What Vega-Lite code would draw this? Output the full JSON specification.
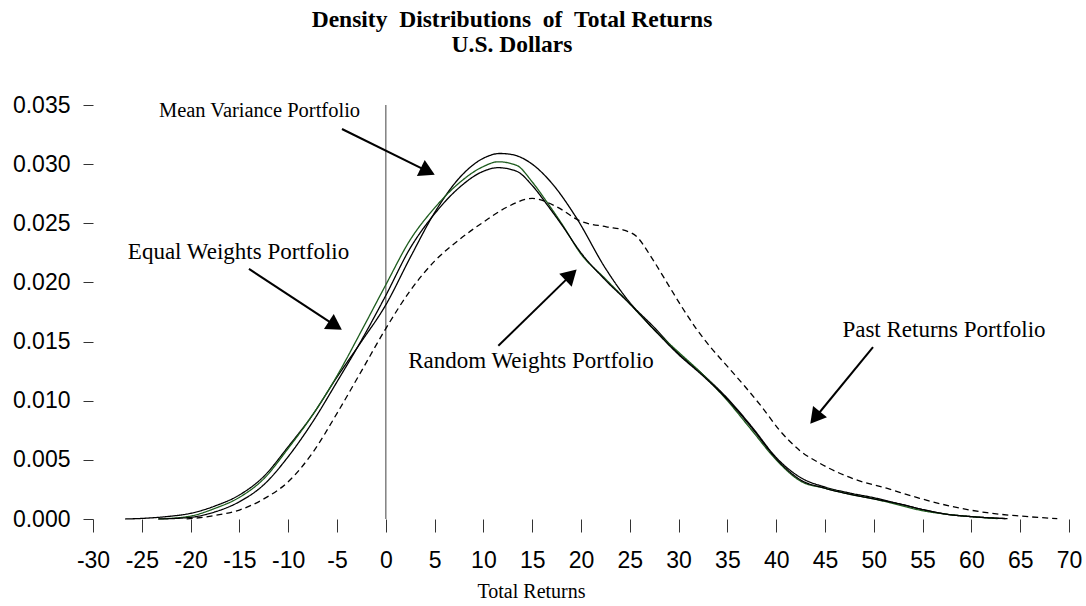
{
  "$schema": "https://vega.github.io/schema/vega-lite/v6.json",
  "width": 976,
  "height": 414,
  "autosize": {"type": "none"},
  "padding": {"left": 93, "top": 105, "right": 17, "bottom": 87},
  "background": "white",
  "config": {"view": {"stroke": null}},
  "title": {
    "text": ["Density\u00a0\u00a0Distributions\u00a0\u00a0of\u00a0\u00a0Total Returns", "U.S. Dollars"],
    "font": "Liberation Serif",
    "fontSize": 23.5,
    "fontWeight": "bold",
    "lineHeight": 25,
    "anchor": "middle",
    "dx": -69,
    "offset": 38,
    "color": "black"
  },
  "datasets": {
    "curves": [
      {"series": "Mean Variance", "x": -26.7, "y": 0},
      {"series": "Mean Variance", "x": -25, "y": 0.00005},
      {"series": "Mean Variance", "x": -22.5, "y": 0.0002},
      {"series": "Mean Variance", "x": -20, "y": 0.00048},
      {"series": "Mean Variance", "x": -17.5, "y": 0.0011},
      {"series": "Mean Variance", "x": -15, "y": 0.00203},
      {"series": "Mean Variance", "x": -12.5, "y": 0.0036},
      {"series": "Mean Variance", "x": -10, "y": 0.00611},
      {"series": "Mean Variance", "x": -7.5, "y": 0.0088},
      {"series": "Mean Variance", "x": -5, "y": 0.012},
      {"series": "Mean Variance", "x": -2.5, "y": 0.015},
      {"series": "Mean Variance", "x": 0, "y": 0.0181},
      {"series": "Mean Variance", "x": 2.5, "y": 0.0221},
      {"series": "Mean Variance", "x": 5, "y": 0.0259},
      {"series": "Mean Variance", "x": 7.5, "y": 0.0288},
      {"series": "Mean Variance", "x": 10, "y": 0.0305},
      {"series": "Mean Variance", "x": 11.7, "y": 0.0309},
      {"series": "Mean Variance", "x": 13, "y": 0.0308},
      {"series": "Mean Variance", "x": 15, "y": 0.03},
      {"series": "Mean Variance", "x": 17, "y": 0.0284},
      {"series": "Mean Variance", "x": 19.5, "y": 0.0255},
      {"series": "Mean Variance", "x": 22.5, "y": 0.0212},
      {"series": "Mean Variance", "x": 25, "y": 0.0183},
      {"series": "Mean Variance", "x": 27.5, "y": 0.0162},
      {"series": "Mean Variance", "x": 30, "y": 0.014},
      {"series": "Mean Variance", "x": 32.5, "y": 0.0122},
      {"series": "Mean Variance", "x": 35, "y": 0.0102},
      {"series": "Mean Variance", "x": 37.5, "y": 0.0078},
      {"series": "Mean Variance", "x": 40, "y": 0.0052},
      {"series": "Mean Variance", "x": 42.5, "y": 0.0035},
      {"series": "Mean Variance", "x": 45, "y": 0.0027},
      {"series": "Mean Variance", "x": 47.5, "y": 0.0022},
      {"series": "Mean Variance", "x": 50, "y": 0.0018},
      {"series": "Mean Variance", "x": 52.5, "y": 0.0013},
      {"series": "Mean Variance", "x": 55, "y": 0.0008},
      {"series": "Mean Variance", "x": 57.5, "y": 0.0004},
      {"series": "Mean Variance", "x": 60, "y": 0.0002},
      {"series": "Mean Variance", "x": 63.7, "y": 0.00003},
      {"series": "Equal Weights", "x": -23.3, "y": 0},
      {"series": "Equal Weights", "x": -20, "y": 0.00025},
      {"series": "Equal Weights", "x": -17.5, "y": 0.0009},
      {"series": "Equal Weights", "x": -15, "y": 0.00183},
      {"series": "Equal Weights", "x": -12.5, "y": 0.0034},
      {"series": "Equal Weights", "x": -10, "y": 0.00597},
      {"series": "Equal Weights", "x": -7.5, "y": 0.0088},
      {"series": "Equal Weights", "x": -5, "y": 0.0121},
      {"series": "Equal Weights", "x": -2.5, "y": 0.0159},
      {"series": "Equal Weights", "x": 0, "y": 0.0198},
      {"series": "Equal Weights", "x": 2.5, "y": 0.0236},
      {"series": "Equal Weights", "x": 5, "y": 0.0263},
      {"series": "Equal Weights", "x": 7.5, "y": 0.0284},
      {"series": "Equal Weights", "x": 10, "y": 0.0298},
      {"series": "Equal Weights", "x": 11.5, "y": 0.0302},
      {"series": "Equal Weights", "x": 13.4, "y": 0.0299},
      {"series": "Equal Weights", "x": 15, "y": 0.0285},
      {"series": "Equal Weights", "x": 16.5, "y": 0.0268},
      {"series": "Equal Weights", "x": 18, "y": 0.025},
      {"series": "Equal Weights", "x": 20, "y": 0.0224},
      {"series": "Equal Weights", "x": 22.5, "y": 0.0203},
      {"series": "Equal Weights", "x": 25, "y": 0.0182},
      {"series": "Equal Weights", "x": 27.5, "y": 0.016},
      {"series": "Equal Weights", "x": 30, "y": 0.0141},
      {"series": "Equal Weights", "x": 32.5, "y": 0.0122},
      {"series": "Equal Weights", "x": 35, "y": 0.01},
      {"series": "Equal Weights", "x": 37.5, "y": 0.0075},
      {"series": "Equal Weights", "x": 40, "y": 0.005},
      {"series": "Equal Weights", "x": 42.5, "y": 0.0032},
      {"series": "Equal Weights", "x": 45, "y": 0.0026},
      {"series": "Equal Weights", "x": 47.5, "y": 0.0021},
      {"series": "Equal Weights", "x": 50, "y": 0.0017},
      {"series": "Equal Weights", "x": 52.5, "y": 0.0012},
      {"series": "Equal Weights", "x": 55, "y": 0.0007},
      {"series": "Equal Weights", "x": 57.5, "y": 0.0004},
      {"series": "Equal Weights", "x": 60, "y": 0.0002},
      {"series": "Equal Weights", "x": 62.7, "y": 0.00003},
      {"series": "Random Weights", "x": -23.3, "y": 0},
      {"series": "Random Weights", "x": -20, "y": 0.00014},
      {"series": "Random Weights", "x": -17.5, "y": 0.0006},
      {"series": "Random Weights", "x": -15, "y": 0.00146},
      {"series": "Random Weights", "x": -12.5, "y": 0.0029},
      {"series": "Random Weights", "x": -10, "y": 0.00527},
      {"series": "Random Weights", "x": -7.5, "y": 0.0082},
      {"series": "Random Weights", "x": -5, "y": 0.0116},
      {"series": "Random Weights", "x": -2.5, "y": 0.0151},
      {"series": "Random Weights", "x": 0, "y": 0.0189},
      {"series": "Random Weights", "x": 2.5, "y": 0.0229},
      {"series": "Random Weights", "x": 5, "y": 0.0258},
      {"series": "Random Weights", "x": 7.5, "y": 0.028},
      {"series": "Random Weights", "x": 10, "y": 0.0294},
      {"series": "Random Weights", "x": 11.5, "y": 0.0297},
      {"series": "Random Weights", "x": 13.4, "y": 0.0294},
      {"series": "Random Weights", "x": 15, "y": 0.0282},
      {"series": "Random Weights", "x": 16.5, "y": 0.0266},
      {"series": "Random Weights", "x": 18, "y": 0.0249},
      {"series": "Random Weights", "x": 20, "y": 0.0225},
      {"series": "Random Weights", "x": 22.5, "y": 0.0202},
      {"series": "Random Weights", "x": 25, "y": 0.0182},
      {"series": "Random Weights", "x": 27.5, "y": 0.016},
      {"series": "Random Weights", "x": 30, "y": 0.0139},
      {"series": "Random Weights", "x": 32.5, "y": 0.0121},
      {"series": "Random Weights", "x": 35, "y": 0.0101},
      {"series": "Random Weights", "x": 37.5, "y": 0.0077},
      {"series": "Random Weights", "x": 40, "y": 0.0051},
      {"series": "Random Weights", "x": 42.5, "y": 0.0033},
      {"series": "Random Weights", "x": 45, "y": 0.0026},
      {"series": "Random Weights", "x": 47.5, "y": 0.0021},
      {"series": "Random Weights", "x": 50, "y": 0.0017},
      {"series": "Random Weights", "x": 52.5, "y": 0.0013},
      {"series": "Random Weights", "x": 55, "y": 0.0008},
      {"series": "Random Weights", "x": 57.5, "y": 0.0004},
      {"series": "Random Weights", "x": 60, "y": 0.0002},
      {"series": "Random Weights", "x": 63.5, "y": 0.00003},
      {"series": "Past Returns", "x": -20.4, "y": 0},
      {"series": "Past Returns", "x": -17.5, "y": 0.0003},
      {"series": "Past Returns", "x": -15, "y": 0.00076},
      {"series": "Past Returns", "x": -12.5, "y": 0.0017},
      {"series": "Past Returns", "x": -10, "y": 0.00315},
      {"series": "Past Returns", "x": -7.5, "y": 0.0056},
      {"series": "Past Returns", "x": -5, "y": 0.00893},
      {"series": "Past Returns", "x": -2.5, "y": 0.0125},
      {"series": "Past Returns", "x": 0, "y": 0.0161},
      {"series": "Past Returns", "x": 2.5, "y": 0.0193},
      {"series": "Past Returns", "x": 5, "y": 0.0218},
      {"series": "Past Returns", "x": 7.5, "y": 0.0236},
      {"series": "Past Returns", "x": 10, "y": 0.0251},
      {"series": "Past Returns", "x": 12.5, "y": 0.0264},
      {"series": "Past Returns", "x": 15, "y": 0.0271},
      {"series": "Past Returns", "x": 17.5, "y": 0.0264},
      {"series": "Past Returns", "x": 19.9, "y": 0.0252},
      {"series": "Past Returns", "x": 22.6, "y": 0.0247},
      {"series": "Past Returns", "x": 24.5, "y": 0.0244},
      {"series": "Past Returns", "x": 25.8, "y": 0.0238},
      {"series": "Past Returns", "x": 27, "y": 0.0224},
      {"series": "Past Returns", "x": 28.5, "y": 0.0204},
      {"series": "Past Returns", "x": 30.2, "y": 0.0181},
      {"series": "Past Returns", "x": 31.8, "y": 0.0161},
      {"series": "Past Returns", "x": 33.3, "y": 0.0145},
      {"series": "Past Returns", "x": 35, "y": 0.0129},
      {"series": "Past Returns", "x": 36.8, "y": 0.0112},
      {"series": "Past Returns", "x": 38.5, "y": 0.0095},
      {"series": "Past Returns", "x": 40.35, "y": 0.0075},
      {"series": "Past Returns", "x": 42.4, "y": 0.0058},
      {"series": "Past Returns", "x": 44.5, "y": 0.0047},
      {"series": "Past Returns", "x": 47.9, "y": 0.0034},
      {"series": "Past Returns", "x": 51.3, "y": 0.0026},
      {"series": "Past Returns", "x": 54.7, "y": 0.00175},
      {"series": "Past Returns", "x": 58.1, "y": 0.00104},
      {"series": "Past Returns", "x": 61.6, "y": 0.00053},
      {"series": "Past Returns", "x": 65, "y": 0.00025},
      {"series": "Past Returns", "x": 68.8, "y": 0.00003}
    ],
    "arrows": [
      {"label": "Mean Variance", "x": -4.49, "y": 0.03297, "x2": 4.3, "y2": 0.02938},
      {"label": "Equal Weights", "x": -14.02, "y": 0.02114, "x2": -5.17, "y2": 0.01635},
      {"label": "Random Weights", "x": 11.53, "y": 0.01465, "x2": 18.98, "y2": 0.02064},
      {"label": "Past Returns", "x": 49.92, "y": 0.01454, "x2": 43.99, "y2": 0.00856}
    ],
    "labels": [
      {"text": "Mean Variance Portfolio", "x": -12.94, "y": 0.03449},
      {"text": "Equal Weights Portfolio", "x": -15.09, "y": 0.02257},
      {"text": "Random Weights Portfolio", "x": 14.88, "y": 0.01336},
      {"text": "Past Returns Portfolio", "x": 57.19, "y": 0.01598}
    ]
  },
  "encoding": {
    "x": {
      "field": "x",
      "type": "quantitative",
      "scale": {"domain": [-30, 70], "nice": false, "zero": false},
      "axis": {
        "values": [-30, -25, -20, -15, -10, -5, 0, 5, 10, 15, 20, 25, 30, 35, 40, 45, 50, 55, 60, 65, 70],
        "labelExpr": "'' + datum.value",
        "title": "Total Returns",
        "titleFont": "Liberation Serif",
        "titleFontSize": 20,
        "titleFontWeight": "normal",
        "titleColor": "black",
        "titleX": 438,
        "titleY": 78,
        "titleBaseline": "alphabetic",
        "domain": false,
        "grid": false,
        "tickSize": 13,
        "tickColor": "#333333",
        "tickWidth": 1,
        "labelFont": "Liberation Sans",
        "labelFontSize": 23,
        "labelColor": "black",
        "labelPadding": 17,
        "labelOverlap": false,
        "labelFlush": false
      }
    },
    "y": {
      "field": "y",
      "type": "quantitative",
      "scale": {"domain": [0, 0.035], "nice": false},
      "axis": {
        "values": [0, 0.005, 0.01, 0.015, 0.02, 0.025, 0.03, 0.035],
        "format": ".3f",
        "title": null,
        "domain": false,
        "grid": false,
        "tickSize": 10,
        "tickColor": "#333333",
        "tickWidth": 1,
        "labelFont": "Liberation Sans",
        "labelFontSize": 23,
        "labelColor": "black",
        "labelPadding": 13,
        "labelOverlap": false,
        "labelFlush": false
      }
    }
  },
  "layer": [
    {
      "data": {"values": [{"x": 0}]},
      "mark": {"type": "rule", "color": "#808080", "strokeWidth": 1.5},
      "encoding": {"x": {"field": "x", "type": "quantitative"}, "y": null}
    },
    {
      "data": {"name": "curves"},
      "mark": {"type": "line", "interpolate": "monotone", "strokeWidth": 1.3},
      "encoding": {
        "color": {
          "field": "series",
          "type": "nominal",
          "scale": {"domain": ["Mean Variance", "Equal Weights", "Random Weights", "Past Returns"], "range": ["#000000", "#1e5c1e", "#000000", "#000000"]},
          "legend": null
        },
        "strokeDash": {
          "field": "series",
          "type": "nominal",
          "scale": {"domain": ["Mean Variance", "Equal Weights", "Random Weights", "Past Returns"], "range": [[1, 0], [1, 0], [1, 0], [6, 4]]},
          "legend": null
        }
      }
    },
    {
      "data": {"name": "arrows"},
      "mark": {"type": "rule", "color": "black", "strokeWidth": 2},
      "encoding": {
        "x2": {"field": "x2"},
        "y2": {"field": "y2"}
      }
    },
    {
      "data": {"name": "arrows"},
      "transform": [{"filter": "datum.label === 'Mean Variance'"}],
      "mark": {"type": "point", "shape": "triangle-up", "filled": true, "color": "black", "size": 320, "angle": 116, "opacity": 1},
      "encoding": {"x": {"field": "x2", "type": "quantitative"}, "y": {"field": "y2", "type": "quantitative"}}
    },
    {
      "data": {"name": "arrows"},
      "transform": [{"filter": "datum.label === 'Equal Weights'"}],
      "mark": {"type": "point", "shape": "triangle-up", "filled": true, "color": "black", "size": 320, "angle": 123, "opacity": 1},
      "encoding": {"x": {"field": "x2", "type": "quantitative"}, "y": {"field": "y2", "type": "quantitative"}}
    },
    {
      "data": {"name": "arrows"},
      "transform": [{"filter": "datum.label === 'Random Weights'"}],
      "mark": {"type": "point", "shape": "triangle-up", "filled": true, "color": "black", "size": 320, "angle": 46, "opacity": 1},
      "encoding": {"x": {"field": "x2", "type": "quantitative"}, "y": {"field": "y2", "type": "quantitative"}}
    },
    {
      "data": {"name": "arrows"},
      "transform": [{"filter": "datum.label === 'Past Returns'"}],
      "mark": {"type": "point", "shape": "triangle-up", "filled": true, "color": "black", "size": 320, "angle": 219, "opacity": 1},
      "encoding": {"x": {"field": "x2", "type": "quantitative"}, "y": {"field": "y2", "type": "quantitative"}}
    },
    {
      "data": {"name": "labels"},
      "transform": [{"filter": "datum.text === 'Mean Variance Portfolio'"}],
      "mark": {"type": "text", "font": "Liberation Serif", "fontSize": 20.5, "color": "black", "align": "center", "baseline": "middle"},
      "encoding": {"text": {"field": "text"}}
    },
    {
      "data": {"name": "labels"},
      "transform": [{"filter": "datum.text !== 'Mean Variance Portfolio'"}],
      "mark": {"type": "text", "font": "Liberation Serif", "fontSize": 23, "color": "black", "align": "center", "baseline": "middle"},
      "encoding": {"text": {"field": "text"}}
    }
  ]
}
